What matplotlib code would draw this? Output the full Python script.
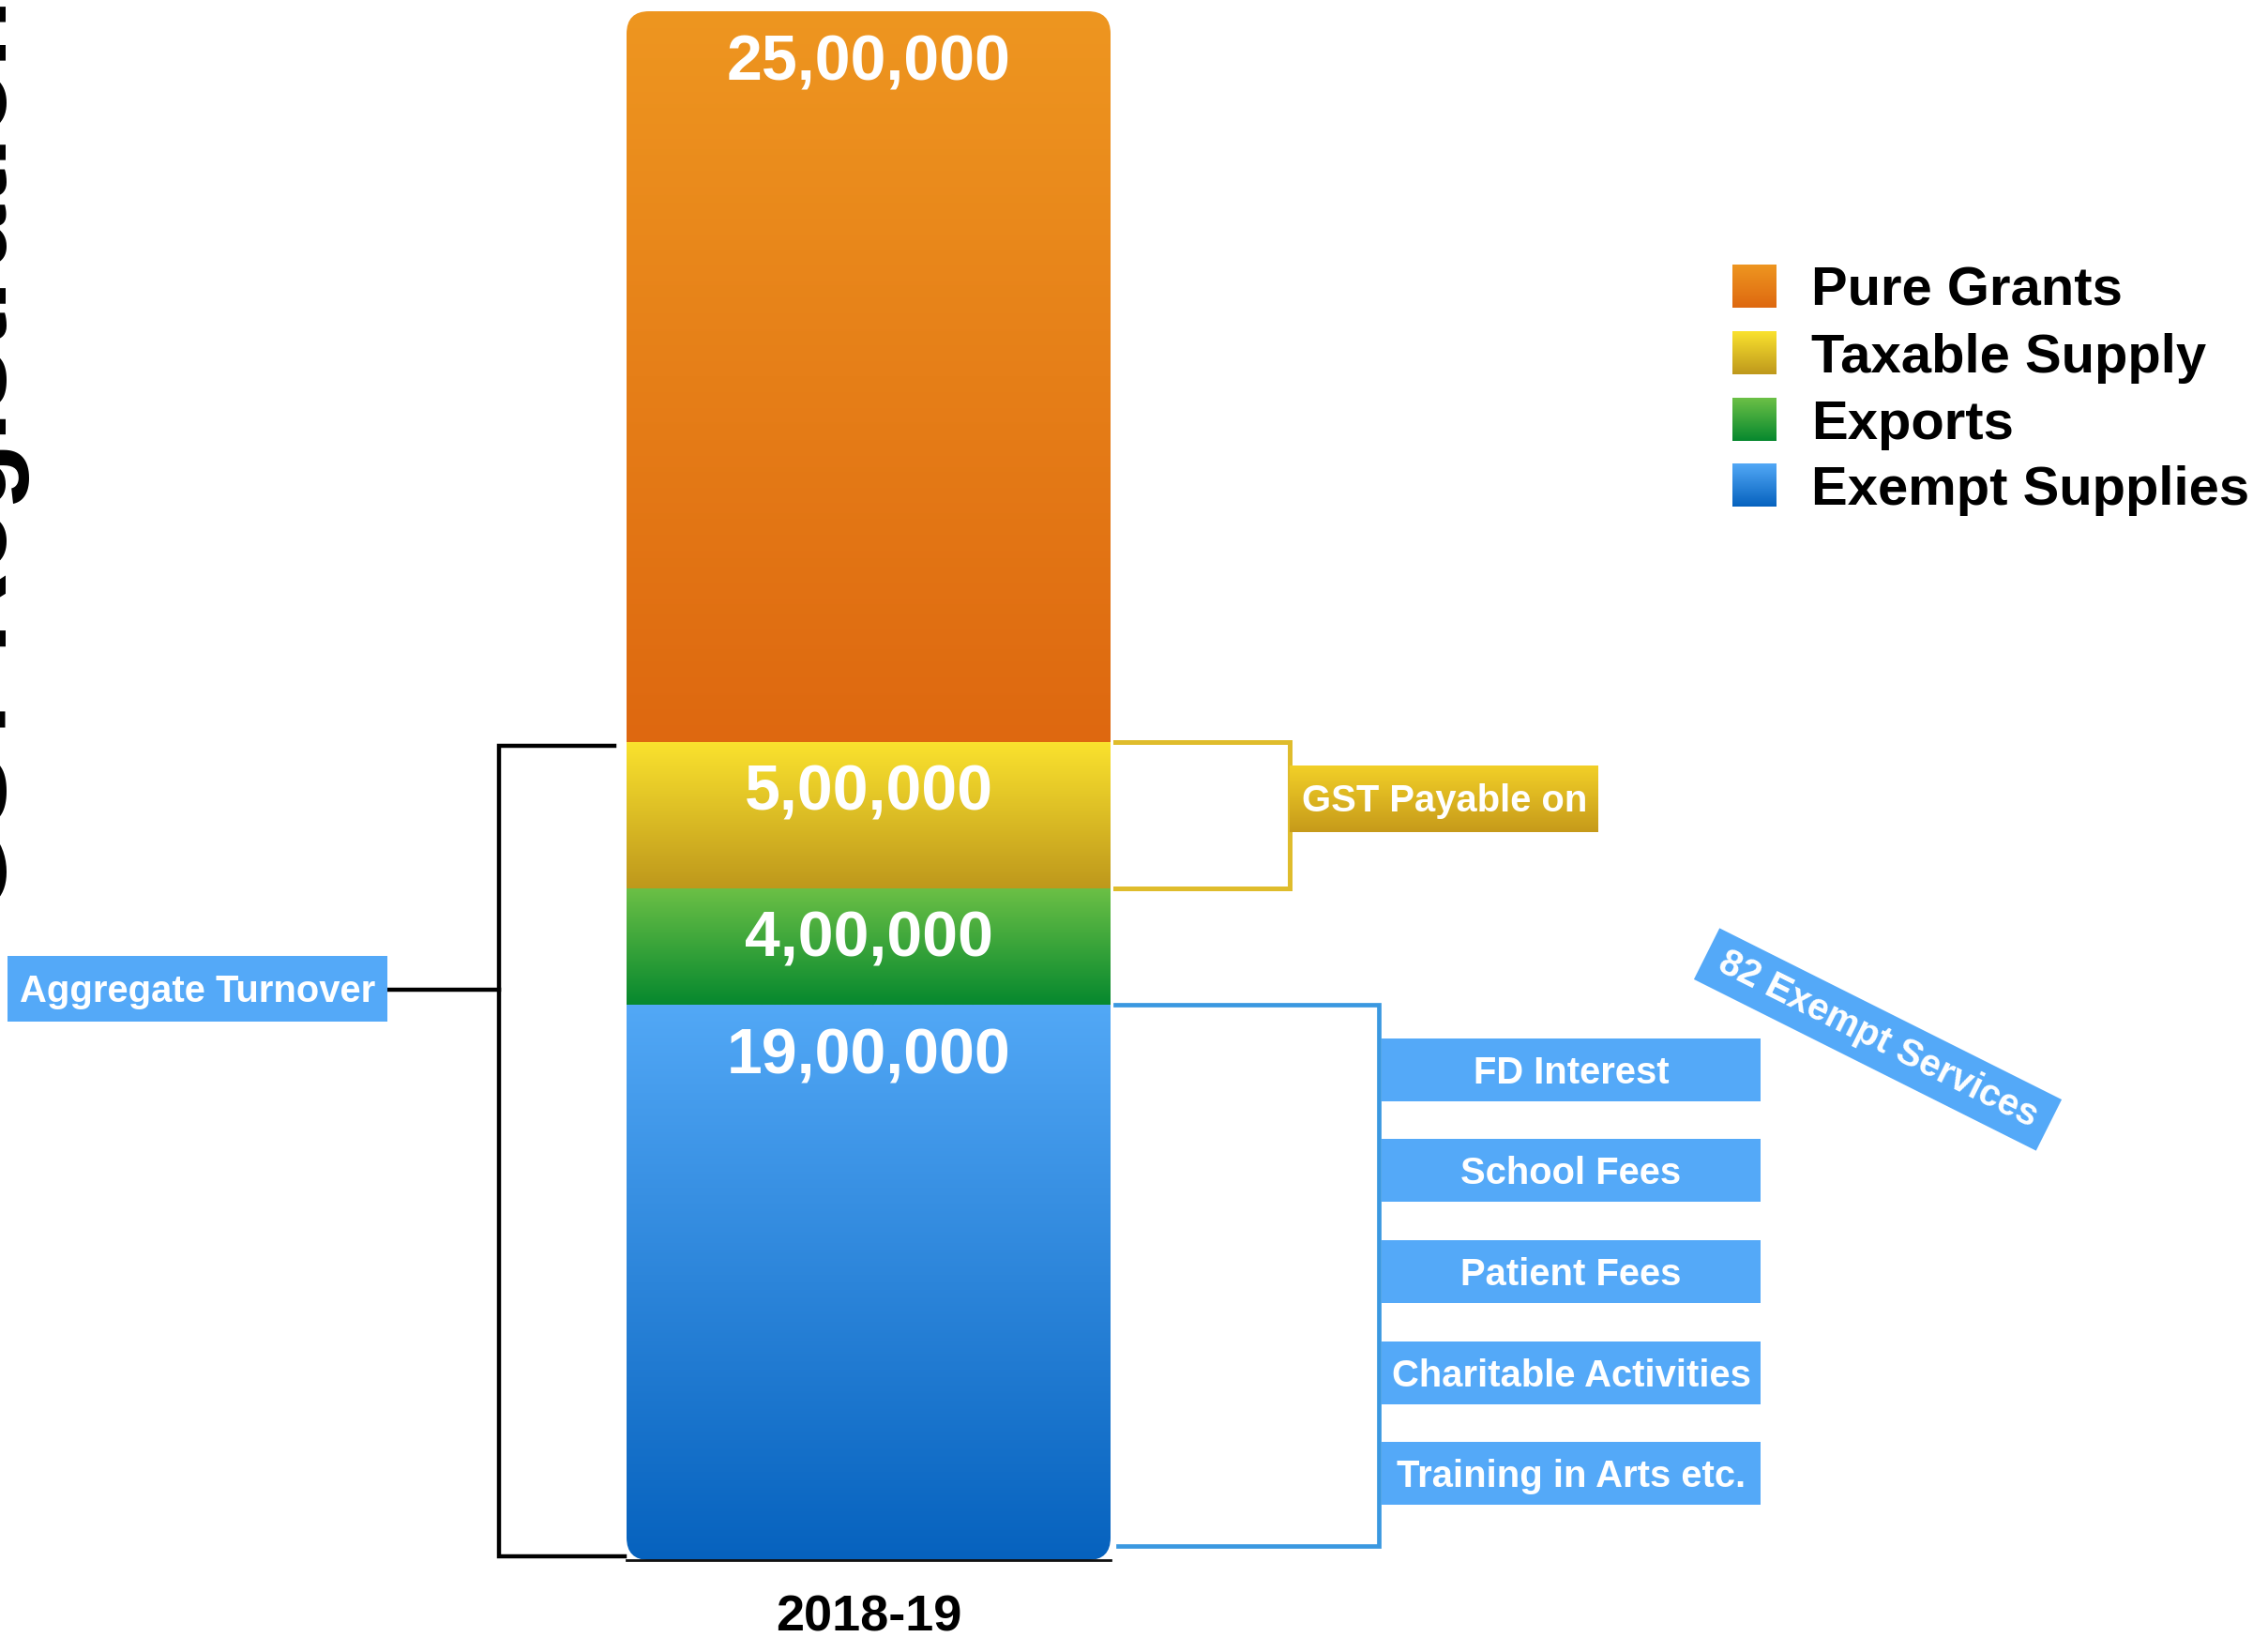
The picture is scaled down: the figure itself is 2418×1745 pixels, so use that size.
import numpy as np
import matplotlib.pyplot as plt
from matplotlib.colors import to_rgb
from matplotlib.patches import FancyBboxPatch, Rectangle

plt.rcParams['font.family'] = ['Liberation Sans', 'DejaVu Sans']
plt.rcParams['font.weight'] = 'bold'

# Data (stack order, bottom to top)
years = ["2018-19"]
series = ["Exempt Supplies", "Exports", "Taxable Supply", "Pure Grants"]
amounts = [1900000, 400000, 500000, 2500000]
exempt_items = ["FD Interest", "School Fees", "Patient Fees",
                "Charitable Activities", "Training in Arts etc."]

# gradient colours per series (top shade, bottom shade)
shade_top = ["#52A8F6", "#6CC046", "#FAE22E", "#EE9620"]
shade_bot = ["#0662BE", "#06882E", "#BE981C", "#DE6810"]
box_blue = "#54A9F8"
gold = "#DFBC2C"
line_blue = "#3A98E0"


def inr(v):
    # Indian digit grouping: 25,00,000
    s = str(int(v))
    if len(s) <= 3:
        return s
    head, tail = s[:-3], s[-3:]
    parts = []
    while len(head) > 2:
        parts.insert(0, head[-2:])
        head = head[:-2]
    if head:
        parts.insert(0, head)
    return ",".join(parts + [tail])


def gradient(c1, c2, n=256):
    a, b = np.array(to_rgb(c1)), np.array(to_rgb(c2))
    t = np.linspace(0, 1, n)[:, None]
    return (a + (b - a) * t)[:, None, :]


W, H = 2418, 1745
fig = plt.figure(figsize=(W / 100, H / 100), dpi=100)

# overlay in pixel units for the annotations
ov = fig.add_axes([0, 0, 1, 1])
ov.axis('off')

# the stacked bar itself
bar_l, bar_r, bar_t, bar_b = 668, 1184, 12, 1663
ax = fig.add_axes([bar_l / W, (H - bar_b) / H, (bar_r - bar_l) / W, (bar_b - bar_t) / H])
ax.patch.set_alpha(0)
total = sum(amounts)

px_x = (bar_r - bar_l) / 1.0
px_y = (bar_b - bar_t) / total
r_px = 24
r_x, r_y = r_px / px_x, r_px / px_y
outline = FancyBboxPatch((-0.5, 0), 1, total,
                         boxstyle=f"round,pad=0,rounding_size={r_x}",
                         mutation_aspect=r_y / r_x, fc='none', ec='none')
ax.add_patch(outline)

bottoms = np.concatenate([[0], np.cumsum(amounts)[:-1]])
for val, b, c1, c2 in zip(amounts, bottoms, shade_top, shade_bot):
    im = ax.imshow(gradient(c1, c2), extent=(-0.5, 0.5, b, b + val),
                   aspect='auto', origin='upper', interpolation='bilinear', zorder=2)
    im.set_clip_path(outline)
    ax.annotate(inr(val), xy=(0, b + val), xytext=(0, -52.6), textcoords='offset points',
                ha='center', va='baseline', color='white', fontsize=49, zorder=3)

ax.set_xlim(-0.5, 0.5)
ax.set_ylim(0, total)
for s in ['left', 'right', 'top']:
    ax.spines[s].set_visible(False)
ax.spines['bottom'].set_linewidth(2)
ax.spines['bottom'].set_color('#111111')
ax.set_xticks([0], years)
ax.set_yticks([])
ax.tick_params(axis='x', length=0, pad=26, labelsize=39)


def ypx(v):
    # data value on the bar -> overlay pixel row
    disp = ax.transData.transform((0, v))
    return ov.transData.inverted().transform(disp)[1]


ov.set_xlim(0, W)
ov.set_ylim(H, 0)

y_grant = total - amounts[3]
y_tax_bot = y_grant - amounts[2]
y_exempt = amounts[0]

# aggregate turnover bracket
ov.plot([655, 532, 532, 666], [ypx(y_grant) + 4, ypx(y_grant) + 4, ypx(0) - 4, ypx(0) - 4],
        color='black', lw=3.2, solid_joinstyle='miter')
ov.plot([413, 532], [1055, 1055], color='black', lw=3.2)

# GST payable bracket
ov.plot([1189, 1375, 1375, 1189], [ypx(y_grant), ypx(y_grant), ypx(y_tax_bot), ypx(y_tax_bot)],
        color=gold, lw=3.6, solid_joinstyle='miter')

# exempt services bracket
ov.plot([1189, 1470, 1470, 1192], [ypx(y_exempt), ypx(y_exempt), 1648, 1648],
        color=line_blue, lw=3.4, solid_joinstyle='miter')

fs_box = 28.8
em = fs_box / 0.72


def label_box(x0, y0, x1, y1, text, color=box_blue):
    ov.add_patch(Rectangle((x0, y0), x1 - x0, y1 - y0, fc=color, ec='none', zorder=3))
    ov.text((x0 + x1) / 2, (y0 + y1) / 2 + 0.36 * em, text, ha='center', va='baseline',
            color='white', fontsize=fs_box, zorder=4)


label_box(8, 1019, 413, 1089, "Aggregate Turnover")

# GST Payable label with gold gradient
ov.imshow(gradient("#F2D028", "#C69A1A"), extent=(1375, 1704, 887, 816), origin='upper',
          aspect='auto', interpolation='bilinear', zorder=3)
ov.text(1540, 851 + 0.36 * em, "GST Payable on", ha='center', va='baseline',
        color='white', fontsize=fs_box, zorder=4)

item_y = [1107, 1214, 1322, 1430, 1537]
for name, y0 in zip(exempt_items, item_y):
    label_box(1473, y0, 1877, y0 + 67, name)

# tilted banner
cx, cy, bw, bh, ang = 2002, 1108, 408, 61, 26.6
ov.add_patch(Rectangle((cx - bw / 2, cy - bh / 2), bw, bh, angle=ang, rotation_point='center',
                       fc=box_blue, ec='none', zorder=3))
ov.text(cx, cy, "82 Exempt Services", rotation=-ang, rotation_mode='anchor',
        ha='center', va='center', color='white', fontsize=fs_box, zorder=4)

# legend
leg_y = [305, 376, 447, 517]
for name, y, c1, c2 in zip(series[::-1], leg_y, shade_top[::-1], shade_bot[::-1]):
    ov.imshow(gradient(c1, c2), extent=(1847, 1894, y + 23, y - 23), origin='upper',
              aspect='auto', interpolation='bilinear', zorder=3)
    ov.text(1931, y + 0.36 * 58, name, ha='left', va='baseline', color='black', fontsize=41.8)

# side title, running off the left edge
ov.text(7, 975, "GST Registration", rotation=90, rotation_mode='anchor',
        ha='left', va='baseline', color='black', fontsize=86)

ov.set_xlim(0, W)
ov.set_ylim(H, 0)

fig.savefig("out.png", dpi=100)
